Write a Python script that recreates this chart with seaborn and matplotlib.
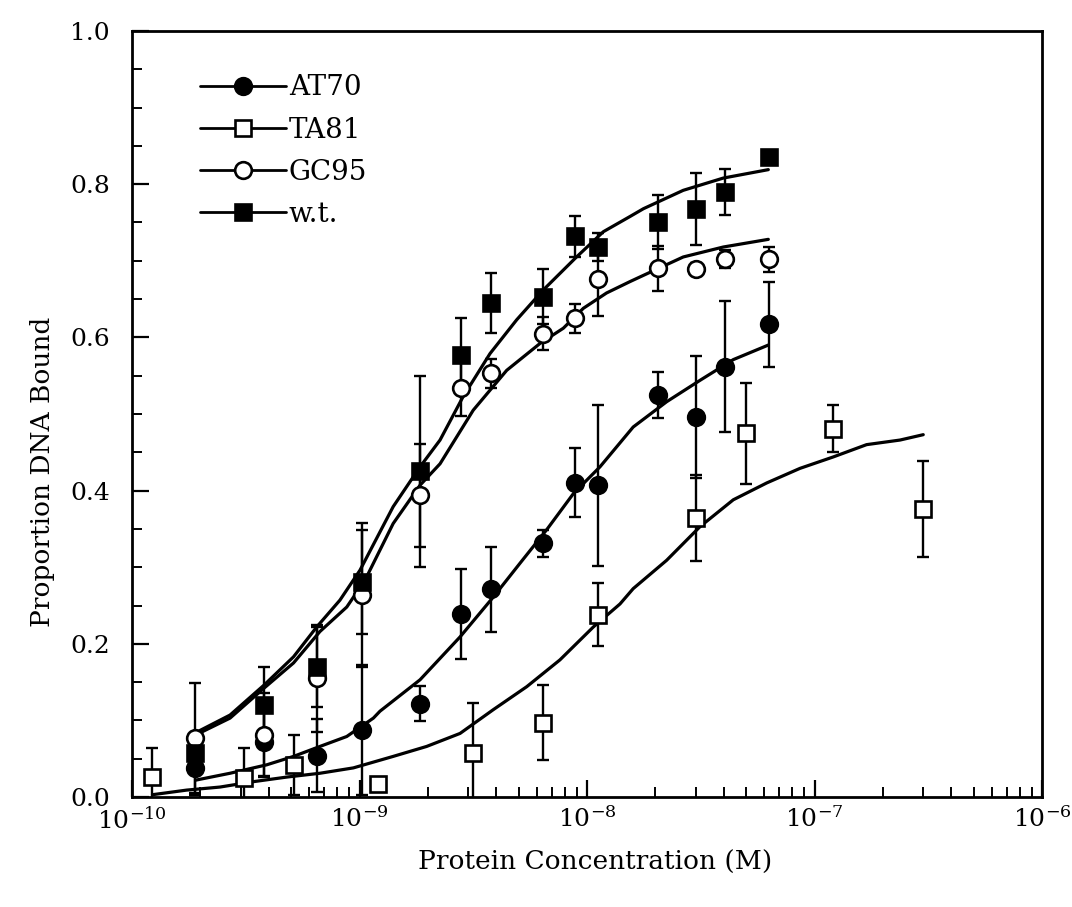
import numpy as np
import pandas as pd
import matplotlib
matplotlib.use("Agg")
import matplotlib.pyplot as plt
import seaborn as sns
from matplotlib.lines import Line2D
from matplotlib.ticker import FixedLocator, LogLocator, NullFormatter, FixedFormatter

# ---------------- data ----------------
series_names = ["AT70", "TA81", "GC95", "w.t."]

conc_main = [1.9e-10, 3.8e-10, 6.5e-10, 1.03e-9, 1.85e-9, 2.8e-9, 3.8e-9,
             6.4e-9, 8.9e-9, 1.12e-8, 2.05e-8, 3.0e-8, 4.05e-8, 6.3e-8]

at70_y = [0.038, 0.072, 0.054, 0.087, 0.122, 0.239, 0.271,
          0.331, 0.410, 0.407, 0.525, 0.496, 0.562, 0.617]
at70_err = [0.035, 0.045, 0.048, 0.085, 0.023, 0.059, 0.055,
            0.018, 0.045, 0.105, 0.030, 0.080, 0.085, 0.055]

gc95_y = [0.077, 0.081, 0.155, 0.264, 0.394, 0.534, 0.553,
          0.605, 0.625, 0.676, 0.690, 0.689, 0.702, 0.702]
gc95_err = [0.072, 0.055, 0.070, 0.094, 0.067, 0.037, 0.019,
            0.021, 0.019, 0.048, 0.029, 0.008, 0.012, 0.016]

wt_y = [0.057, 0.120, 0.170, 0.281, 0.425, 0.577, 0.645,
        0.653, 0.732, 0.718, 0.751, 0.767, 0.790, 0.836]
wt_err = [0.020, 0.050, 0.052, 0.068, 0.125, 0.048, 0.039,
          0.036, 0.027, 0.018, 0.035, 0.047, 0.030, 0.0]

ta81_x = [1.22e-10, 3.1e-10, 5.15e-10, 1.21e-9, 3.14e-9, 6.4e-9,
          1.12e-8, 3.0e-8, 5.0e-8, 1.2e-7, 3.0e-7]
ta81_y = [0.026, 0.025, 0.042, 0.017, 0.058, 0.097,
          0.238, 0.364, 0.475, 0.481, 0.376]
ta81_err = [0.038, 0.039, 0.039, 0.0, 0.065, 0.049,
            0.041, 0.056, 0.066, 0.031, 0.063]

# fitted curves (log10 concentration, proportion)
wt_curve_logx = [-9.72, -9.569, -9.42, -9.29, -9.188, -9.086, -8.998, -8.852,
                 -8.734, -8.646, -8.544, -8.426, -8.309, -8.192, -8.046,
                 -7.928, -7.81, -7.752, -7.577, -7.401, -7.203]
wt_curve_y = [0.084, 0.107, 0.146, 0.183, 0.222, 0.257, 0.296, 0.379,
              0.431, 0.466, 0.523, 0.579, 0.623, 0.662, 0.705,
              0.738, 0.758, 0.768, 0.792, 0.808, 0.819]

gc95_curve_logx = [-9.72, -9.569, -9.42, -9.29, -9.174, -9.056, -8.976, -8.852,
                   -8.734, -8.646, -8.5, -8.353, -8.207, -8.104, -8.016,
                   -7.914, -7.81, -7.752, -7.577, -7.401, -7.203]
gc95_curve_y = [0.081, 0.103, 0.142, 0.175, 0.216, 0.248, 0.283, 0.357,
                0.407, 0.435, 0.505, 0.557, 0.592, 0.612, 0.638,
                0.658, 0.673, 0.681, 0.705, 0.718, 0.728]

at70_curve_logx = [-9.72, -9.569, -9.408, -9.29, -9.174, -9.056, -8.939, -8.91,
                   -8.734, -8.558, -8.412, -8.295, -8.177, -8.06, -7.943,
                   -7.797, -7.65, -7.503, -7.357, -7.203]
at70_curve_y = [0.022, 0.031, 0.042, 0.053, 0.066, 0.079, 0.103, 0.112,
                0.153, 0.209, 0.261, 0.305, 0.349, 0.396, 0.431,
                0.483, 0.516, 0.544, 0.571, 0.590]

ta81_curve_logx = [-9.91, -9.76, -9.613, -9.467, -9.32, -9.174, -9.027, -8.852,
                   -8.705, -8.558, -8.412, -8.265, -8.119, -7.972, -7.855,
                   -7.797, -7.65, -7.503, -7.357, -7.21, -7.064, -6.917,
                   -6.771, -6.624, -6.522]
ta81_curve_y = [0.003, 0.009, 0.013, 0.020, 0.026, 0.031, 0.038, 0.053,
                0.066, 0.083, 0.114, 0.144, 0.179, 0.222, 0.252,
                0.272, 0.309, 0.353, 0.388, 0.410, 0.429, 0.444,
                0.460, 0.466, 0.473]

x_tick_labels = [r"$10^{-10}$", r"$10^{-9}$", r"$10^{-8}$", r"$10^{-7}$", r"$10^{-6}$"]
y_tick_labels = ["0.0", "0.2", "0.4", "0.6", "0.8", "1.0"]

# ---------------- styling ----------------
sns.set_style("ticks")
plt.rcParams["font.family"] = ["DejaVu Serif"]
plt.rcParams["mathtext.fontset"] = "dejavuserif"
for key in ["text.color", "axes.labelcolor", "xtick.color", "ytick.color",
            "axes.edgecolor"]:
    plt.rcParams[key] = "black"

fig = plt.figure(figsize=(10.72, 9.07), dpi=100)
ax = fig.add_axes([132 / 1072, 1 - 797 / 907, 910 / 1072, 766 / 907])

LW_CURVE = 2.3
curves = [
    (at70_curve_logx, at70_curve_y),
    (ta81_curve_logx, ta81_curve_y),
    (gc95_curve_logx, gc95_curve_y),
    (wt_curve_logx, wt_curve_y),
]
for name, (lx, ly) in zip(series_names, curves):
    df = pd.DataFrame({"conc": 10.0 ** np.asarray(lx), "y": ly})
    sns.lineplot(data=df, x="conc", y="y", ax=ax, color="black",
                 linewidth=LW_CURVE, sort=False, estimator=None, zorder=2)

marker_specs = {
    "AT70": dict(marker="o", mfc="black", ms=12),
    "TA81": dict(marker="s", mfc="white", ms=11),
    "GC95": dict(marker="o", mfc="white", ms=12),
    "w.t.": dict(marker="s", mfc="black", ms=11),
}
point_sets = {
    "AT70": (conc_main, at70_y, at70_err),
    "TA81": (ta81_x, ta81_y, ta81_err),
    "GC95": (conc_main, gc95_y, gc95_err),
    "w.t.": (conc_main, wt_y, wt_err),
}
for name in series_names:
    xs, ys, es = point_sets[name]
    spec = marker_specs[name]
    ax.errorbar(xs, ys, yerr=es, fmt="none", ecolor="black", elinewidth=1.7,
                capsize=4.5, capthick=1.7, zorder=3)
    ax.plot(xs, ys, linestyle="none", marker=spec["marker"], markersize=spec["ms"],
            markerfacecolor=spec["mfc"], markeredgecolor="black",
            markeredgewidth=1.9, zorder=4)

# ---------------- axes ----------------
ax.set_xscale("log")
ax.set_xlim(1e-10, 1e-6)
ax.set_ylim(0.0, 1.0)

ax.xaxis.set_major_locator(FixedLocator([1e-10, 1e-9, 1e-8, 1e-7, 1e-6]))
ax.xaxis.set_major_formatter(FixedFormatter(x_tick_labels))
ax.xaxis.set_minor_locator(LogLocator(base=10, subs=np.arange(2, 10), numticks=50))
ax.xaxis.set_minor_formatter(NullFormatter())

ax.yaxis.set_major_locator(FixedLocator([0.0, 0.2, 0.4, 0.6, 0.8, 1.0]))
ax.yaxis.set_major_formatter(FixedFormatter(y_tick_labels))
ax.yaxis.set_minor_locator(FixedLocator(np.arange(0, 1.0001, 0.05)))

ax.tick_params(axis="both", which="major", direction="in", length=12, width=1.6,
               labelsize=18, color="black", labelcolor="black")
ax.tick_params(axis="both", which="minor", direction="in", length=7, width=1.4,
               color="black")
ax.tick_params(axis="y", which="both", pad=16)
ax.tick_params(axis="x", which="both", pad=7)
ax.tick_params(top=False, right=False, which="both")

for side in ["left", "right", "top", "bottom"]:
    ax.spines[side].set_visible(True)
    ax.spines[side].set_linewidth(2.0)
    ax.spines[side].set_color("black")

ax.set_xlabel("Protein Concentration (M)", fontsize=19, color="black")
ax.set_ylabel("Proportion DNA Bound", fontsize=19, color="black")
ax.xaxis.set_label_coords(0.509, -0.069)
ax.yaxis.set_label_coords(-0.085, 0.424)

handles = [
    Line2D([0], [0], color="black", lw=2.0, marker=marker_specs[n]["marker"],
           markersize=marker_specs[n]["ms"], markerfacecolor=marker_specs[n]["mfc"],
           markeredgecolor="black", markeredgewidth=1.9)
    for n in series_names
]
leg = ax.legend(handles, series_names, loc="upper left", bbox_to_anchor=(0.062, 0.958),
                frameon=False, fontsize=20, handlelength=3.1, handletextpad=0.12,
                labelspacing=0.55, borderaxespad=0.0)
for t in leg.get_texts():
    t.set_color("black")

fig.savefig("out.png", dpi=100)
